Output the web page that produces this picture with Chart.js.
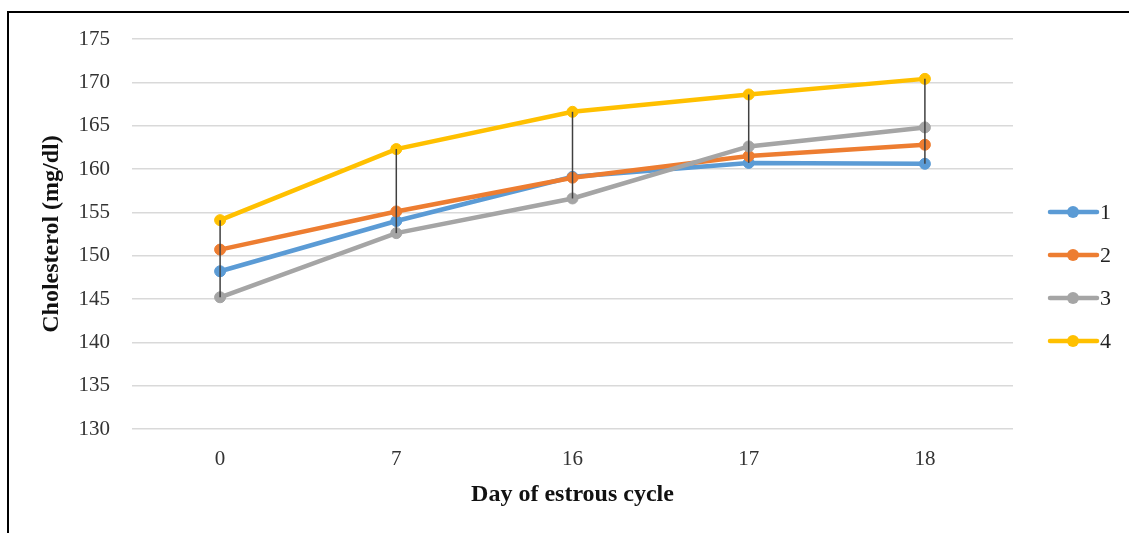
<!DOCTYPE html>
<html>
<head>
<meta charset="utf-8">
<script src="https://cdn.jsdelivr.net/npm/chart.js@4"></script>
<style>
  html, body { margin: 0; padding: 0; background: #fff; }
  #wrap { position: relative; width: 1129px; height: 533px; overflow: hidden; }
  #frame { position: absolute; left: 7px; top: 11px; right: -10px; bottom: -10px;
           border-left: 2px solid #000; border-top: 2px solid #000; pointer-events: none; }
  canvas { position: absolute; left: 0; top: 0; }
</style>
</head>
<body>
<div id="wrap">
  <canvas id="c" width="1129" height="533"></canvas>
  <div id="frame"></div>
</div>
<script>
// ---- data ----
const categories = ['0', '7', '16', '17', '18'];
const seriesNames = ['1', '2', '3', '4'];
const series1 = [148.2, 154.0, 159.1, 160.7, 160.6];
const series2 = [150.7, 155.1, 159.0, 161.5, 162.8];
const series3 = [145.2, 152.6, 156.6, 162.6, 164.8];
const series4 = [154.1, 162.3, 166.6, 168.6, 170.4];
const yTicks = [130, 135, 140, 145, 150, 155, 160, 165, 170, 175];
const xTitle = 'Day of estrous cycle';
const yTitle = 'Cholesterol (mg/dl)';

const colors = ['#5B9BD5', '#ED7D31', '#A5A5A5', '#FFC000'];
const allSeries = [series1, series2, series3, series4];
const serif = "'Liberation Serif', 'Times New Roman', serif";

// High-low lines between max and min series at each category
const highLowPlugin = {
  id: 'highLow',
  afterDatasetsDraw(chart) {
    const xs = chart.scales.x, ys = chart.scales.y;
    const ctx = chart.ctx;
    ctx.save();
    ctx.strokeStyle = '#404040';
    ctx.lineWidth = 1.5;
    categories.forEach((c, i) => {
      const vals = chart.data.datasets.map(d => d.data[i]);
      const hi = Math.max(...vals), lo = Math.min(...vals);
      const x = xs.getPixelForValue(i);
      ctx.beginPath();
      ctx.moveTo(x, ys.getPixelForValue(hi));
      ctx.lineTo(x, ys.getPixelForValue(lo));
      ctx.stroke();
    });
    ctx.restore();
  }
};

// Legend: line with marker, then label
const legendPlugin = {
  id: 'sideLegend',
  afterDraw(chart) {
    const ctx = chart.ctx;
    ctx.save();
    chart.data.datasets.forEach((d, i) => {
      const y = 212 + i * 43;
      ctx.strokeStyle = d.borderColor;
      ctx.lineWidth = 4.5;
      ctx.lineCap = 'round';
      ctx.beginPath();
      ctx.moveTo(1050, y);
      ctx.lineTo(1097, y);
      ctx.stroke();
      ctx.fillStyle = d.borderColor;
      ctx.beginPath();
      ctx.arc(1073, y, 6, 0, Math.PI * 2);
      ctx.fill();
      ctx.fillStyle = '#222';
      ctx.font = '22px ' + serif;
      ctx.textBaseline = 'middle';
      ctx.textAlign = 'left';
      ctx.fillText(d.label, 1100, y + 1);
    });
    ctx.restore();
  }
};

new Chart(document.getElementById('c'), {
  type: 'line',
  data: {
    labels: categories,
    datasets: allSeries.map((s, i) => ({
      label: seriesNames[i],
      data: s,
      borderColor: colors[i],
      backgroundColor: colors[i],
      pointBackgroundColor: colors[i],
      pointBorderColor: colors[i],
      borderWidth: 4.5,
      pointRadius: 5.5,
      pointBorderWidth: 1,
      tension: 0,
      order: 3 - i
    }))
  },
  options: {
    responsive: false,
    devicePixelRatio: 1,
    animation: false,
    layout: { padding: { top: 39, right: 116, left: 0, bottom: 0 } },
    plugins: {
      legend: { display: false },
      tooltip: { enabled: false }
    },
    scales: {
      x: {
        offset: true,
        grid: { display: false, drawTicks: false },
        border: { display: false },
        ticks: { color: '#333', font: { family: serif, size: 21 }, padding: 18 },
        title: { display: true, text: xTitle, color: '#111',
                 font: { family: serif, size: 24, weight: 'bold' },
                 padding: { top: 0, bottom: 24 } },
        afterFit(scale) { scale.height = 104; }
      },
      y: {
        min: 130, max: 175,
        afterBuildTicks(scale) { scale.ticks = yTicks.map(v => ({ value: v })); },
        grid: { color: '#d9d9d9', lineWidth: 1.5, drawTicks: false },
        border: { display: false },
        ticks: { color: '#333', font: { family: serif, size: 21 }, padding: 22 },
        title: { display: true, text: yTitle, color: '#111',
                 font: { family: serif, size: 24, weight: 'bold' },
                 padding: { top: 37, bottom: 0 } },
        afterFit(scale) { scale.width = 132; }
      }
    }
  },
  plugins: [highLowPlugin, legendPlugin]
});
</script>
</body>
</html>
